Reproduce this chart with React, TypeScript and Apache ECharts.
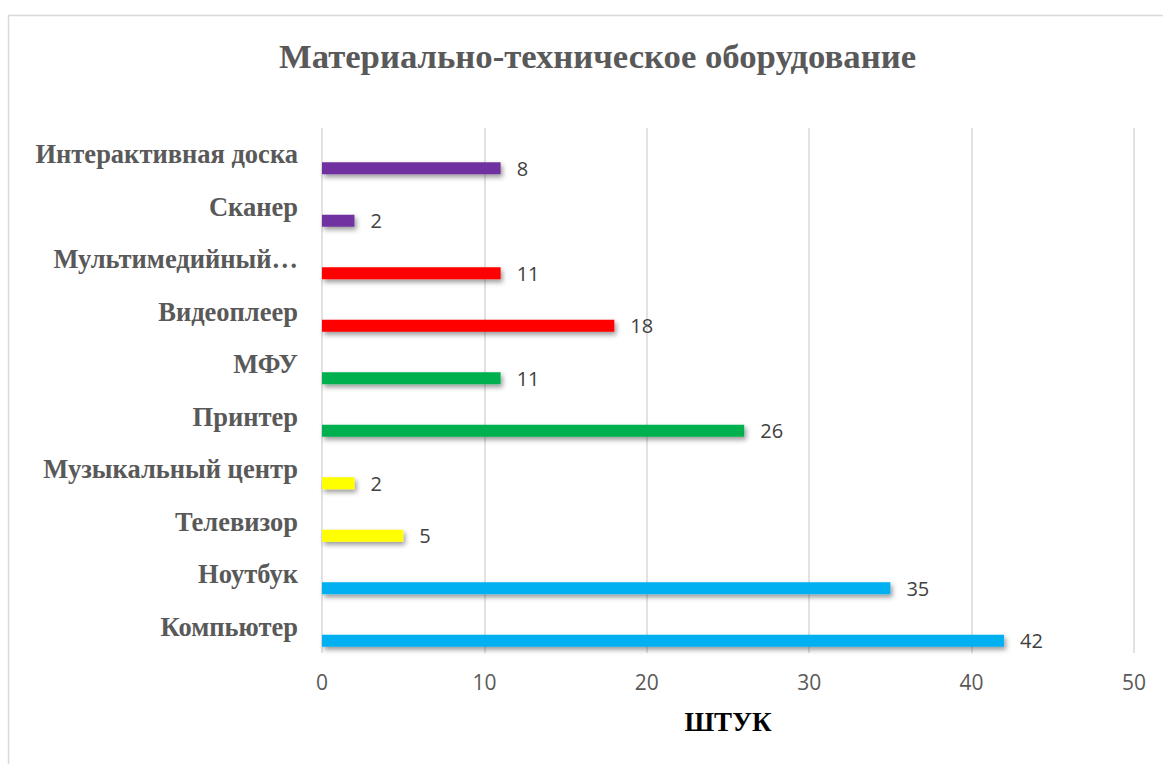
import React, { useEffect, useRef } from "react";
import * as echarts from "echarts";

const categories = [
  "Компьютер",
  "Ноутбук",
  "Телевизор",
  "Музыкальный центр",
  "Принтер",
  "МФУ",
  "Видеоплеер",
  "Мультимедийный…",
  "Сканер",
  "Интерактивная доска",
];
// bar lengths as drawn
const values = [42, 35, 5, 2, 26, 11, 18, 11, 2, 11];
// data labels as printed
const valueLabels = ["42", "35", "5", "2", "26", "11", "18", "11", "2", "8"];
const colors = [
  "#00B0F0",
  "#00B0F0",
  "#FFFF00",
  "#FFFF00",
  "#00B050",
  "#00B050",
  "#FF0000",
  "#FF0000",
  "#7030A0",
  "#7030A0",
];
const title = "Материально-техническое оборудование";
const xName = "ШТУК";

export default function App() {
  const ref = useRef<HTMLDivElement>(null);
  useEffect(() => {
    if (!ref.current) return;
    const chart = echarts.init(ref.current, undefined, { renderer: "svg" });
    const serif = "'Liberation Serif', 'Times New Roman', serif";
    const sans = "'Open Sans', 'Liberation Sans', sans-serif";
    chart.setOption({
      animation: false,
      backgroundColor: "#ffffff",
      title: {
        text: title,
        left: 274,
        top: 34,
        textStyle: {
          fontFamily: serif,
          fontWeight: "bold",
          fontSize: 34.7,
          color: "#595959",
        },
      },
      graphic: [
        {
          type: "rect",
          shape: { x: 8.5, y: 15.5, width: 1300, height: 900 },
          style: { fill: "none", stroke: "#d9d9d9", lineWidth: 1.5 },
          silent: true,
          z: -1,
        },
      ],
      grid: { left: 322, right: 29, top: 128, bottom: 111 },
      xAxis: {
        type: "value",
        min: 0,
        max: 50,
        interval: 10,
        axisLine: { show: false },
        axisTick: { show: false },
        splitLine: { show: true, lineStyle: { color: "#d9d9d9", width: 1.5 } },
        axisLabel: {
          fontFamily: sans,
          fontSize: 21,
          color: "#595959",
          margin: 18,
        },
        name: xName,
        nameLocation: "middle",
        nameGap: 55,
        nameTextStyle: {
          fontFamily: serif,
          fontWeight: "bold",
          fontSize: 27,
          color: "#000000",
        },
      },
      yAxis: {
        type: "category",
        data: categories,
        axisLine: { show: false },
        axisTick: { show: false },
        axisLabel: {
          fontFamily: serif,
          fontWeight: "bold",
          fontSize: 26.5,
          color: "#595959",
          margin: 24,
          padding: [4, 0, 0, 0],
        },
      },
      series: [
        {
          type: "bar",
          data: values.map(() => null),
          barWidth: 12,
          barGap: "133%",
          silent: true,
        },
        {
          type: "bar",
          data: values.map((v, i) => ({ value: v, itemStyle: { color: colors[i] } })),
          barWidth: 12,
          barGap: "133%",
          itemStyle: {
            shadowColor: "rgba(0,0,0,0.4)",
            shadowBlur: 5,
            shadowOffsetX: 2,
            shadowOffsetY: 3,
          },
          label: {
            show: true,
            position: "right",
            distance: 16,
            fontFamily: sans,
            fontSize: 20,
            color: "#404040",
            formatter: (p: any) => valueLabels[p.dataIndex],
          },
        },
      ],
    });
    return () => chart.dispose();
  }, []);
  return (
    <div
      ref={ref}
      style={{ position: "fixed", left: 0, top: 0, width: 1163, height: 764 }}
    />
  );
}
